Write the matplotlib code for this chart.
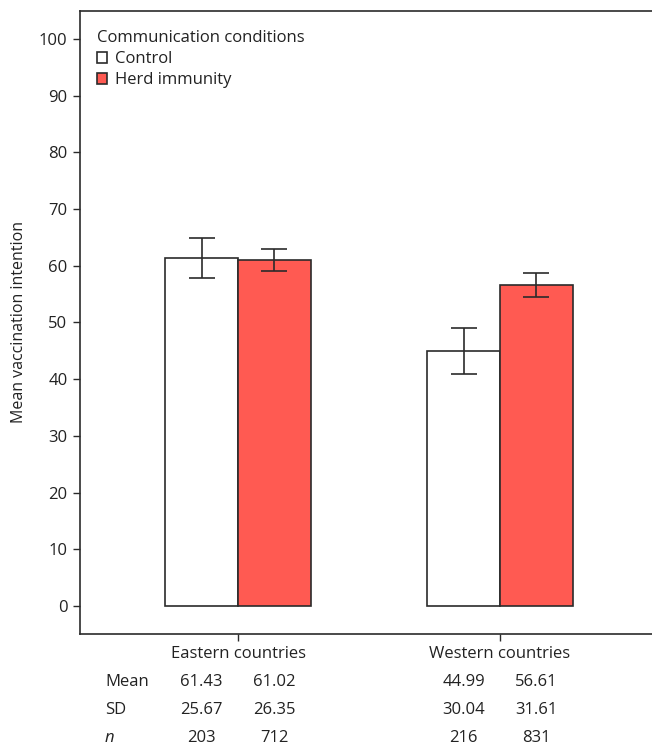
import matplotlib.pyplot as plt
import matplotlib.transforms as mtransforms
from matplotlib.patches import Patch

plt.rcParams["font.family"] = ["Open Sans", "DejaVu Sans"]
plt.rcParams["font.size"] = 12

REGIONS = ["Eastern countries", "Western countries"]
CONDITIONS = ["Control", "Herd immunity"]
COLORS = {"Control": "#ffffff", "Herd immunity": "#ff5a52"}

# mean vaccination intention per region, by condition
MEANS = {"Control": [61.43, 44.99], "Herd immunity": [61.02, 56.61]}
SDS = {"Control": [25.67, 30.04], "Herd immunity": [26.35, 31.61]}
NS = {"Control": [203, 216], "Herd immunity": [712, 831]}
# error bar half-widths
ERRS = {"Control": [3.5, 4.0], "Herd immunity": [1.9, 2.1]}

EDGE = "#2b2b2b"
TEXT = "#222222"
WIDTH = 0.277
FS = 12

fig = plt.figure(figsize=(6.52, 7.47), dpi=100)
ax = fig.add_axes([0.1227, 0.1513, 0.8773, 0.834])

offsets = {"Control": -WIDTH / 2, "Herd immunity": WIDTH / 2}
for cond in CONDITIONS:
    xs = [i + offsets[cond] for i in range(len(REGIONS))]
    ax.bar(xs, MEANS[cond], width=WIDTH, color=COLORS[cond],
           edgecolor=EDGE, linewidth=1.2, zorder=2)
    ax.errorbar(xs, MEANS[cond], yerr=ERRS[cond], fmt="none",
                ecolor=EDGE, elinewidth=1.2, capsize=9.5, capthick=1.2, zorder=3)

ax.set_xlim(-0.603, 1.58)
ax.set_ylim(-4.94, 104.94)
ax.set_yticks(range(0, 101, 10))
ax.set_xticks(range(len(REGIONS)))
ax.set_xticklabels(REGIONS)
ax.spines["right"].set_visible(False)
for side in ("left", "top", "bottom"):
    ax.spines[side].set_color(EDGE)
    ax.spines[side].set_linewidth(1.2)
ax.tick_params(axis="both", direction="out", length=5, width=1.0,
               color=EDGE, labelcolor=TEXT, pad=4, labelsize=FS)

fig.text(0.029, 0.569, "Mean vaccination intention", rotation=90,
         ha="center", va="center", color=TEXT, fontsize=11.5)

handles = [Patch(facecolor=COLORS[c], edgecolor=EDGE, linewidth=1.2) for c in CONDITIONS]
leg = ax.legend(handles, CONDITIONS, title="Communication conditions",
                loc="upper left", bbox_to_anchor=(-0.003, 1.0), frameon=False,
                alignment="left", handlelength=0.6, handleheight=0.6,
                handletextpad=0.45, labelspacing=0.3, borderpad=0.65,
                fontsize=FS, title_fontsize=FS)
for t in leg.get_texts():
    t.set_color(TEXT)
leg.get_title().set_color(TEXT)

# summary table under the axes
trans = mtransforms.blended_transform_factory(ax.transData, fig.transFigure)
row_y = {"Mean": 0.087, "SD": 0.0495, "n": 0.012}
stats = {"Mean": (MEANS, "{:.2f}"), "SD": (SDS, "{:.2f}"), "n": (NS, "{:d}")}
for label, y in row_y.items():
    fig.text(0.161, y, label, ha="left", va="center", color=TEXT, fontsize=FS,
             style="italic" if label == "n" else "normal")
    values, fmt = stats[label]
    for cond in CONDITIONS:
        for i, v in enumerate(values[cond]):
            ax.text(i + offsets[cond], y, fmt.format(v), transform=trans,
                    ha="center", va="center", color=TEXT, fontsize=FS)

fig.savefig("out.png", dpi=100, facecolor="white")
